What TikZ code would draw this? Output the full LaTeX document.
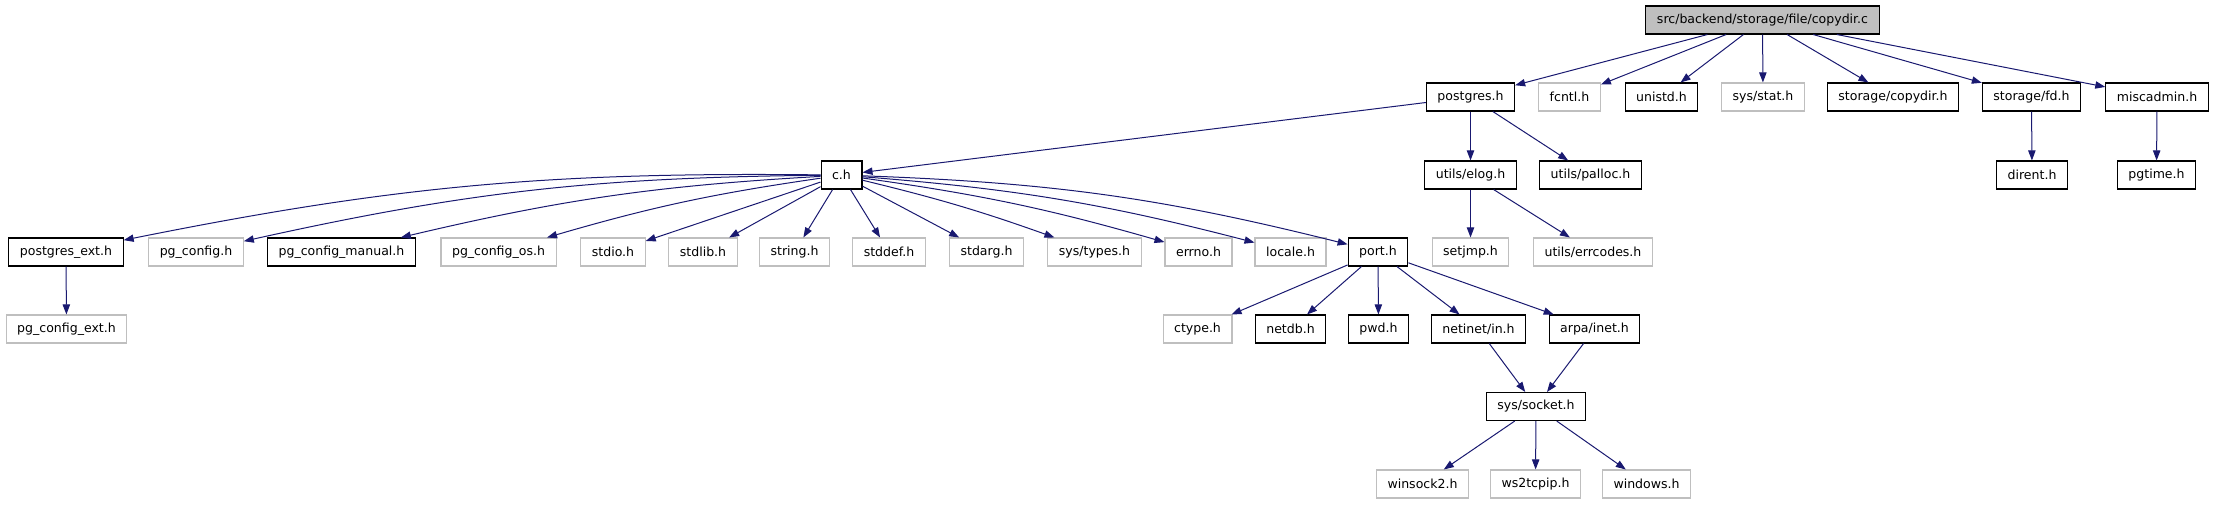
\documentclass[tikz,border=0pt]{standalone}
\usepackage{fontspec}
\setmainfont{DejaVu Sans}
\usetikzlibrary{arrows.meta}
\definecolor{edgeblue}{RGB}{25,25,112}
\definecolor{boxgrey}{RGB}{191,191,191}
\tikzset{
  hdr/.style={draw=black, line width=0.8pt, minimum height=21pt, inner xsep=8.3pt, inner ysep=0pt,
    font=\fontsize{9.4}{11}\selectfont},
  sys/.style={hdr, draw=boxgrey},
  top/.style={hdr, fill=boxgrey},
  dep/.style={draw=edgeblue, line width=0.75pt, -{Triangle[length=7.5pt,width=5.5pt]}}
}
\begin{document}
\begin{tikzpicture}[x=0.75pt,y=-0.75pt]
\useasboundingbox (0,0) rectangle (2215,504);
% top
\node[top] (copydir) at (1762.5,20) {src/backend/storage/file/copydir.c};
% row 2
\node[hdr] (postgres) at (1470.5,97) {postgres.h};
\node[sys] (fcntl) at (1569.5,97) {fcntl.h};
\node[hdr] (unistd) at (1661.5,97) {unistd.h};
\node[sys] (sysstat) at (1763,97) {sys/stat.h};
\node[hdr] (stcopydir) at (1893,97) {storage/copydir.h};
\node[hdr] (stfd) at (2031.5,97) {storage/fd.h};
\node[hdr] (miscadmin) at (2157,97) {miscadmin.h};
% row 3
\node[hdr] (ch) at (841.5,175) {c.h};
\node[hdr] (elog) at (1470.5,175) {utils/elog.h};
\node[hdr] (palloc) at (1590.5,175) {utils/palloc.h};
\node[hdr] (dirent) at (2032,175) {dirent.h};
\node[hdr] (pgtime) at (2156.5,175) {pgtime.h};
% row 4
\node[hdr] (pgext) at (66,252) {postgres\_ext.h};
\node[sys] (pgconfig) at (196,252) {pg\_config.h};
\node[hdr] (pgmanual) at (341.5,252) {pg\_config\_manual.h};
\node[sys] (pgos) at (498.5,252) {pg\_config\_os.h};
\node[sys] (stdio) at (613,252) {stdio.h};
\node[sys] (stdlib) at (703,252) {stdlib.h};
\node[sys] (string) at (794.5,252) {string.h};
\node[sys] (stddef) at (889,252) {stddef.h};
\node[sys] (stdarg) at (986.5,252) {stdarg.h};
\node[sys] (systypes) at (1094.5,252) {sys/types.h};
\node[sys] (errno) at (1198.5,252) {errno.h};
\node[sys] (locale) at (1290.5,252) {locale.h};
\node[hdr] (port) at (1378,252) {port.h};
\node[sys] (setjmp) at (1470.5,252) {setjmp.h};
\node[sys] (errcodes) at (1593,252) {utils/errcodes.h};
% row 5
\node[sys] (pgcfgext) at (66.5,329) {pg\_config\_ext.h};
\node[sys] (ctype) at (1197.5,329) {ctype.h};
\node[hdr] (netdb) at (1290.5,329) {netdb.h};
\node[hdr] (pwd) at (1378.5,329) {pwd.h};
\node[hdr] (netinet) at (1478.5,329) {netinet/in.h};
\node[hdr] (arpa) at (1594.5,329) {arpa/inet.h};
% row 6 and 7
\node[hdr] (socket) at (1536,406.5) {sys/socket.h};
\node[sys] (winsock) at (1422.5,484) {winsock2.h};
\node[sys] (ws2tcpip) at (1535.5,484) {ws2tcpip.h};
\node[sys] (windows) at (1646.5,484) {windows.h};
% edges
\draw[dep] (copydir) -- (postgres);
\draw[dep] (copydir) -- (fcntl);
\draw[dep] (copydir) -- (unistd);
\draw[dep] (copydir) -- (sysstat);
\draw[dep] (copydir) -- (stcopydir);
\draw[dep] (copydir) -- (stfd);
\draw[dep] (copydir) -- (miscadmin);
\draw[dep] (postgres) -- (ch);
\draw[dep] (postgres) -- (elog);
\draw[dep] (postgres) -- (palloc);
\draw[dep] (stfd) -- (dirent);
\draw[dep] (miscadmin) -- (pgtime);
\draw[dep] (ch) to[bend right=6] (pgext);
\draw[dep] (ch) to[bend right=6] (pgconfig);
\draw[dep] (ch) to[bend right=5] (pgmanual);
\draw[dep] (ch) to[bend right=4] (pgos);
\draw[dep] (ch) -- (stdio);
\draw[dep] (ch) -- (stdlib);
\draw[dep] (ch) -- (string);
\draw[dep] (ch) -- (stddef);
\draw[dep] (ch) -- (stdarg);
\draw[dep] (ch) to[bend left=3] (systypes);
\draw[dep] (ch) to[bend left=4] (errno);
\draw[dep] (ch) to[bend left=5] (locale);
\draw[dep] (ch) to[bend left=6] (port);
\draw[dep] (elog) -- (setjmp);
\draw[dep] (elog) -- (errcodes);
\draw[dep] (pgext) -- (pgcfgext);
\draw[dep] (port) -- (ctype);
\draw[dep] (port) -- (netdb);
\draw[dep] (port) -- (pwd);
\draw[dep] (port) -- (netinet);
\draw[dep] (port) -- (arpa);
\draw[dep] (netinet) -- (socket);
\draw[dep] (arpa) -- (socket);
\draw[dep] (socket) -- (winsock);
\draw[dep] (socket) -- (ws2tcpip);
\draw[dep] (socket) -- (windows);
\end{tikzpicture}
\end{document}
